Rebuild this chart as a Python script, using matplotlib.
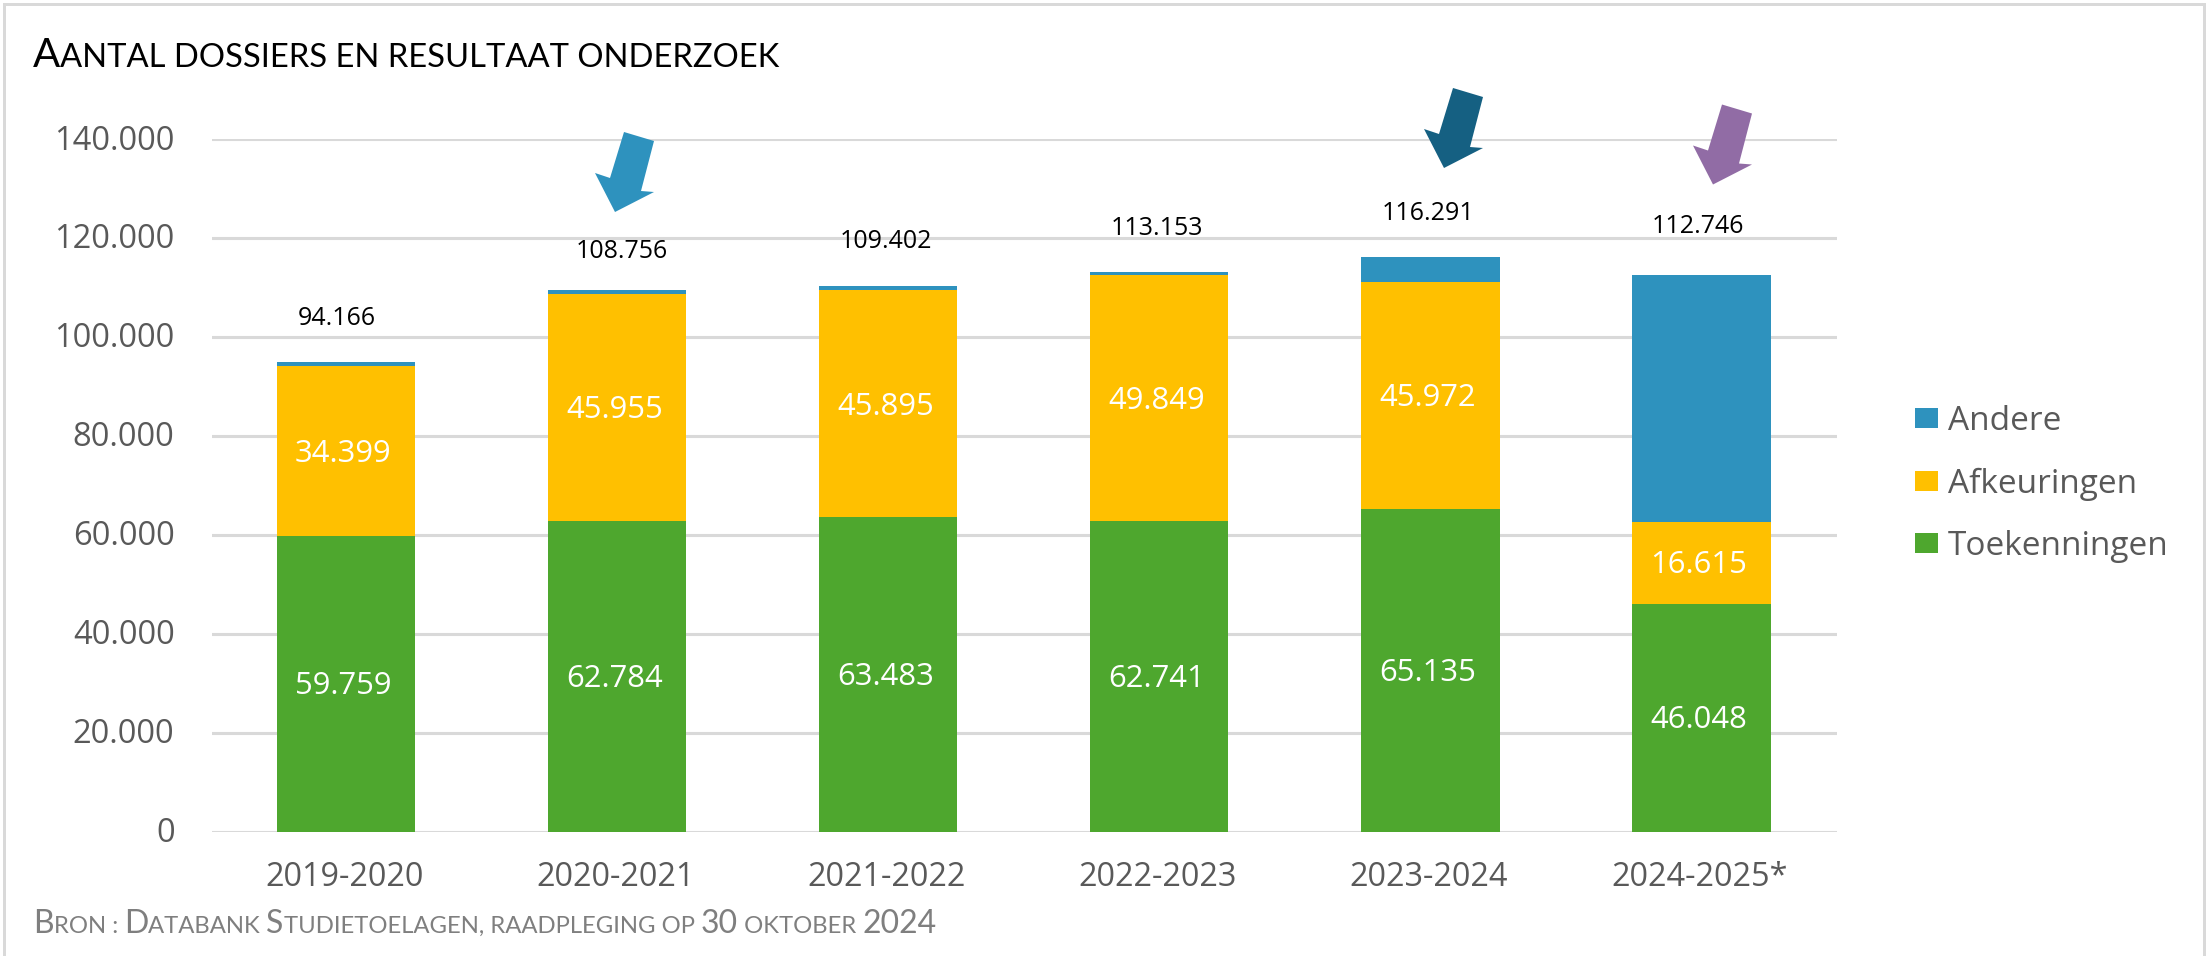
import matplotlib
matplotlib.use("Agg")
import matplotlib.pyplot as plt
from matplotlib.patches import Polygon, Rectangle
from matplotlib.transforms import Affine2D

W, H = 2208, 956
DPI = 100

categories = ["2019-2020", "2020-2021", "2021-2022", "2022-2023", "2023-2024", "2024-2025*"]
toekenningen = [59759, 62784, 63483, 62741, 65135, 46048]
afkeuringen = [34399, 45955, 45895, 49849, 45972, 16615]
andere = [700, 700, 870, 500, 5000, 49900]
totals = [94166, 108756, 109402, 113153, 116291, 112746]
total_label_y = [103800, 117300, 119300, 122000, 125000, 122400]
total_label_dx = [-0.035, 0.018, -0.01, -0.008, -0.01, -0.014]
y_ticks = [0, 20000, 40000, 60000, 80000, 100000, 120000, 140000]

GREEN, YELLOW, BLUE = "#4EA72E", "#FFC000", "#2E92BE"
GREY = "#595959"
TEXT_FONT = ["Open Sans", "DejaVu Sans"]
TITLE_FONT = ["Lato", "DejaVu Sans"]


def dots(v):
    return f"{v:,.0f}".replace(",", ".")


fig = plt.figure(figsize=(W / DPI, H / DPI), dpi=DPI, facecolor="white")
px = Affine2D().scale(1, -1).translate(0, H)  # figure pixels, origin top-left

ax = fig.add_axes([212 / W, 1 - 831.5 / H, (1837 - 212) / W, (831.5 - 139) / H])
ax.set_xlim(-0.495, 5.5)
ax.set_ylim(0, 140000)
ax.set_axisbelow(True)
ax.yaxis.grid(True, color="#D9D9D9", lw=2.2)
ax.xaxis.grid(False)
for s in ax.spines.values():
    s.set_visible(False)

x = range(len(categories))
bw = 0.51
bottom2 = [a + b for a, b in zip(toekenningen, afkeuringen)]
b1 = ax.bar(x, toekenningen, bw, color=GREEN, label="Toekenningen")
b2 = ax.bar(x, afkeuringen, bw, bottom=toekenningen, color=YELLOW, label="Afkeuringen")
b3 = ax.bar(x, andere, bw, bottom=bottom2, color=BLUE, label="Andere")

for bars, vals in ((b1, toekenningen), (b2, afkeuringen)):
    for ann in ax.bar_label(bars, labels=[dots(v) for v in vals], label_type="center",
                            color="white", fontsize=22.3, family=TEXT_FONT):
        ann.xyann = (-2, -2)

for i, (t, ly, dx) in enumerate(zip(totals, total_label_y, total_label_dx)):
    ax.text(i + dx, ly, dots(t), ha="center", va="center", color="black",
            fontsize=18, family=TEXT_FONT)

ax.set_xticks(list(x), categories)
ax.set_yticks(y_ticks, [dots(v) for v in y_ticks])
ax.tick_params(axis="both", length=0, colors=GREY)
ax.tick_params(axis="y", pad=27, labelsize=23.5)
ax.tick_params(axis="x", pad=21, labelsize=23.3)
for lab in ax.get_xticklabels():
    lab.set_family(TEXT_FONT)
    lab.set_transform(lab.get_transform() + Affine2D().translate(-2, 0))
for lab in ax.get_yticklabels():
    lab.set_family(TEXT_FONT)
    lab.set_transform(lab.get_transform() + Affine2D().translate(0, 2))

handles, labels = ax.get_legend_handles_labels()
leg = fig.legend(handles[::-1], labels[::-1], loc="center left",
                 bbox_to_anchor=(1915 / W, 1 - 484 / H), frameon=False,
                 prop={"family": TEXT_FONT, "size": 24}, labelcolor=GREY,
                 handlelength=0.69, handleheight=0.54, handletextpad=0.3,
                 labelspacing=0.885, borderpad=0, borderaxespad=0)

# decorative arrows: one outline, placed three times (figure pixels)
arrow = [(624, 132), (654, 141), (641, 191), (654, 192), (615, 212), (595, 173), (610, 178)]
for (dx, dy, col) in ((0, 0, "#2E92BE"), (829, -44, "#156082"), (1098, -27.5, "#916CA5")):
    fig.add_artist(Polygon([(a + dx, b + dy) for a, b in arrow], closed=True,
                           transform=px, facecolor=col, edgecolor="none"))


def small_caps(xs, y, runs, color, weight):
    r = fig.canvas.get_renderer()
    for txt, size in runs:
        t = fig.text(xs / W, 1 - y / H, txt, fontsize=size, color=color,
                     family=TITLE_FONT, weight=weight, ha="left", va="baseline")
        xs += t.get_window_extent(r).width


small_caps(33, 67, [("A", 29), ("ANTAL DOSSIERS EN RESULTAAT ONDERZOEK", 23.6)], "black", "normal")
small_caps(33, 933, [("B", 23), ("RON : ", 17.2), ("D", 23), ("ATABANK ", 17.2), ("S", 23),
                     ("TUDIETOELAGEN, RAADPLEGING OP ", 17.2), ("30", 23), (" OKTOBER ", 17.2),
                     ("2024", 23)], "#7F7F7F", "normal")

# outer frame: top, left and right edges only
for rect in ((3, 3, W - 5, 3), (3, 3, 3, H - 3), (W - 5, 3, 3, H - 3)):
    fig.add_artist(Rectangle((rect[0], rect[1]), rect[2], rect[3], transform=px,
                             facecolor="#D9D9D9", edgecolor="none"))

fig.savefig("out.png", dpi=DPI, facecolor="white")
